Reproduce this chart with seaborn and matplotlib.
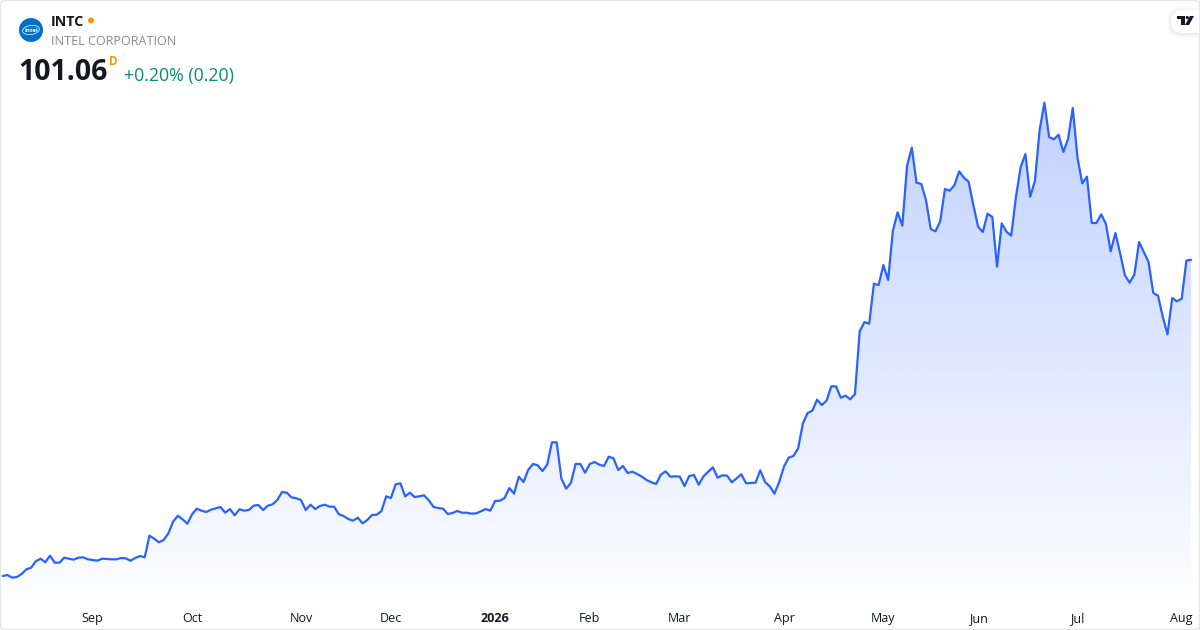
# grafica de precio INTC (area con degradado)
import numpy as np
import pandas as pd
import seaborn as sns
import matplotlib.pyplot as plt
from matplotlib.colors import LinearSegmentedColormap
from matplotlib.patches import Circle, Ellipse, FancyBboxPatch, Polygon

# precios de cierre, por tramos
prices_2025_a = [22.0, 22.25, 21.58, 21.75, 22.5, 23.67, 24.08, 25.67, 26.33, 25.42, 27.08, 25.33, 25.33,
                 26.58, 26.33, 26.08, 26.58, 26.67, 26.17, 26.0, 25.83, 26.33, 26.25, 26.17, 26.17, 26.5,
                 26.42, 25.83, 26.5, 27.0, 26.67, 32.08, 31.33, 30.42, 31.0, 32.67, 35.58, 37.08, 36.17,
                 35.08, 37.42, 38.83, 38.33, 38.0, 38.58, 38.92, 39.25, 37.83, 38.75, 37.17, 38.67, 38.33,
                 38.5, 39.58, 39.75, 38.5, 39.58, 39.92, 41.0, 43.0, 42.83, 41.67, 41.42, 41.0]
prices_2025_b = [38.5, 39.83, 38.75, 39.5, 39.83, 39.33, 39.33, 37.42, 37.0, 36.25, 35.83, 36.58, 35.17,
                 36.0, 37.25, 37.33, 38.25, 41.92, 41.5, 44.92, 45.17, 41.92, 42.83, 41.75, 41.92, 42.17,
                 40.92, 39.25, 39.0, 38.83, 37.5, 37.75, 38.25, 37.83, 37.83, 37.58, 37.67, 38.17, 38.75,
                 38.33, 40.75, 40.83, 41.5, 44.0, 42.58, 46.83, 45.5, 48.58, 50.0, 49.67, 48.25, 49.83,
                 55.42, 55.42, 46.33, 43.83, 45.25, 50.0, 50.0, 47.83, 50.0, 50.5, 49.83]
prices_2026_a = [49.5, 51.83, 51.42, 48.5, 49.5, 47.75, 48.08, 47.5, 46.83, 46.0, 45.42, 45.0, 47.33, 48.17,
                 46.83, 46.92, 46.83, 44.5, 47.0, 47.25, 44.83, 46.92, 48.08, 49.17, 46.58, 47.17, 47.08,
                 45.42, 46.42, 47.42, 45.17, 45.25, 45.33, 48.42, 45.5, 44.42, 42.58, 45.5, 49.33, 51.58,
                 52.0, 53.92, 60.17, 62.75, 63.33, 66.08, 64.75, 65.83, 69.42, 69.42, 66.58, 67.08, 66.17,
                 67.5]
prices_2026_b = [83.17, 85.5, 85.08, 95.08, 94.75, 99.75, 96.0, 108.25, 112.92, 109.58, 124.58, 129.08,
                 120.33, 120.0, 116.0, 108.75, 108.17, 110.67, 118.75, 118.33, 119.67, 123.17, 121.58,
                 120.58, 114.75, 109.33, 108.0, 112.58, 111.75, 99.33, 110.17, 108.08, 107.08, 116.83]
prices_2026_c = [124.25, 127.5, 116.83, 120.75, 133.5, 140.33, 131.75, 131.17, 132.33, 128.0, 131.25, 139.0,
                 126.5, 120.17, 121.83, 110.25, 110.25, 112.42, 110.0, 103.17, 107.75, 102.67, 97.17, 95.33,
                 97.33, 105.5, 103.0, 100.5, 92.75, 92.08, 86.83, 82.42, 91.5, 90.67, 91.33, 100.86, 101.06]

# sesion en la que empieza cada mes y su etiqueta
month_sessions = [19, 40, 63, 82, 104, 124, 143, 165, 186, 206, 227, 249]
month_labels = ['Sep', 'Oct', 'Nov', 'Dec', '2026', 'Feb', 'Mar', 'Apr', 'May', 'Jun', 'Jul', 'Aug']

ticker = 'INTC'
company = 'INTEL CORPORATION'
last_price = '101.06'
change_text = '+0.20% (0.20)'

BLUE = '#2962FF'
GREEN = '#0A8A72'
ORANGE = '#FF9800'

prices = prices_2025_a + prices_2025_b + prices_2026_a + prices_2026_b + prices_2026_c
df = pd.DataFrame({'session': np.arange(len(prices)), 'price': prices})

sns.set_theme(style='white')
plt.rcParams['font.family'] = ['Open Sans', 'DejaVu Sans']

fig = plt.figure(figsize=(12, 6.3), dpi=100, facecolor='white')
ax = fig.add_axes([0, 0, 1, 1])

# 1 sesion = 4.735 px, y 1 dolar = 4 px
floor_price = 16.0

#------------Area con degradado recortada bajo la linea------------
area = ax.fill_between(df['session'], df['price'], floor_price, color='none', linewidth=0)
cmap = LinearSegmentedColormap.from_list('area', [(41/255, 98/255, 1, 0.01), (41/255, 98/255, 1, 0.29)])
grad = ax.imshow(np.linspace(1, 0, 256).reshape(-1, 1), cmap=cmap, vmin=0, vmax=1, aspect='auto',
                 extent=[df['session'].min(), df['session'].max(), floor_price, df['price'].max()],
                 origin='upper', zorder=1)
grad.set_clip_path(area.get_paths()[0], transform=ax.transData)

sns.lineplot(data=df, x='session', y='price', color=BLUE, linewidth=1.6, ax=ax, zorder=3)
ax.set_xlim(-2.67 / 4.735, (1200 - 2.67) / 4.735)
ax.set_ylim(8.5, 166)
ax.set_xlabel('')
ax.set_ylabel('')
ax.set_yticks([])
ax.set_xticks(month_sessions)
ax.set_xticklabels(month_labels)
# etiquetas dentro del marco
ax.tick_params(axis='x', length=0, pad=-12.8, labelsize=9, labelcolor='#131722')
ax.get_xticklabels()[4].set_fontweight('bold')
sns.despine(ax=ax, left=True, bottom=True)
ax.patch.set_alpha(0)

#------------Capa en pixeles para marco, cabecera y logos------------
top = fig.add_axes([0, 0, 1, 1], facecolor='none')
top.set_xlim(0, 1200)
top.set_ylim(630, 0)
top.axis('off')

top.add_patch(FancyBboxPatch((0.5, 0.5), 1199, 629, boxstyle='round,pad=0,rounding_size=5',
                             fc='none', ec='#E6E6E6', lw=1))

# logo circular
top.add_patch(Circle((31, 30), 12, fc='#0071C5', ec='none'))
top.add_patch(Ellipse((31, 30), 17, 9, angle=-8, fc='none', ec='white', lw=0.5))
top.text(31, 30.5, 'intel', color='white', fontsize=4.2, fontweight='bold', ha='center', va='center')

top.text(51, 21.5, ticker, color='#131722', fontsize=10.3, fontweight='bold', ha='left', va='center')
top.add_patch(Circle((91, 20.5), 3, fc=ORANGE, ec='none'))
top.text(51, 41.5, company, color='#8A8A8A', fontsize=9.1, ha='left', va='center')
top.text(18.5, 73, last_price, color='#131722', fontsize=20.5, fontweight='bold', ha='left', va='center')
top.text(108.5, 61.5, 'D', color=ORANGE, fontsize=8.5, fontweight='bold', ha='left', va='center')
top.text(124, 75.5, change_text, color=GREEN, fontsize=12.8, ha='left', va='center')

# marca arriba a la derecha, con sombra suave
for off, a in [(4, 0.012), (3, 0.016), (2, 0.02), (1, 0.025)]:
    top.add_patch(FancyBboxPatch((1171 - off, 11 - off), 40 + off, 23 + off * 2,
                                 boxstyle='round,pad=0,rounding_size=12', fc='black', ec='none', alpha=a))
top.add_patch(FancyBboxPatch((1171, 10), 40, 23, boxstyle='round,pad=0,rounding_size=11', fc='white', ec='none'))
top.add_patch(Polygon([(1177, 16), (1185, 16), (1185, 25), (1181, 25), (1181, 19), (1177, 19)], fc='#131722', ec='none'))
top.add_patch(Circle((1187.3, 17.6), 1.6, fc='#131722', ec='none'))
top.add_patch(Polygon([(1190, 16), (1194, 16), (1189, 25), (1185, 25)], fc='#131722', ec='none'))
top.add_patch(Polygon([(1199, 0), (1200, 0), (1200, 630), (1199, 630)], fc='#E6E6E6', ec='none'))

plt.savefig('out.png', dpi=100)
